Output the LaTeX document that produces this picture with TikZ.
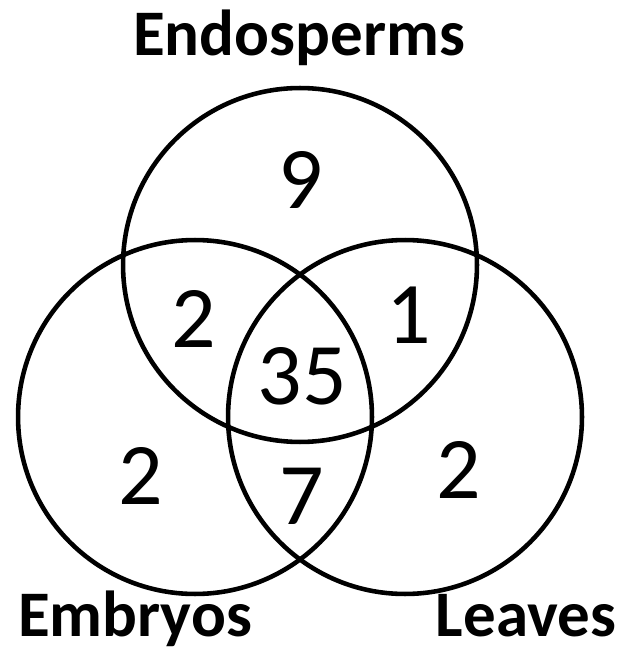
\documentclass[tikz,border=0pt]{standalone}
\usepackage{fontspec}
\setmainfont{Carlito}

\tikzset{
  setname/.style={font=\bfseries\fontsize{37}{37}\selectfont, anchor=base, inner sep=0pt},
  count/.style={font=\fontsize{50}{50}\selectfont, inner sep=0pt},
}

\begin{document}
\begin{tikzpicture}[x=0.02cm, y=-0.02cm, line width=2.6pt]
  \useasboundingbox (0,0) rectangle (623,651);
  \coordinate (E) at (300,265);
  \coordinate (M) at (195,417);
  \coordinate (L) at (405,417);
  % the three sets
  \draw (E) circle (3.54cm);
  \draw (M) circle (3.54cm);
  \draw (L) circle (3.54cm);

  \node[setname] (endo) at (299,56) {Endosperms};
  \node[setname] (embr) at (135,636) {Embryos};
  \node[setname] (leav) at (526,636) {Leaves};

  % counts
  \node[count] (n9) at (301,180) {9};
  \node[count] (nEM) at (194,319) {2};
  \node[count] (nEL) at (409,315) {1};
  \node[count] (nall) at (302,376) {35};
  \node[count] (nM) at (141,476) {2};
  \node[count] (nML) at (302,496) {7};
  \node[count] (nL) at (459,470) {2};
\end{tikzpicture}
\end{document}
